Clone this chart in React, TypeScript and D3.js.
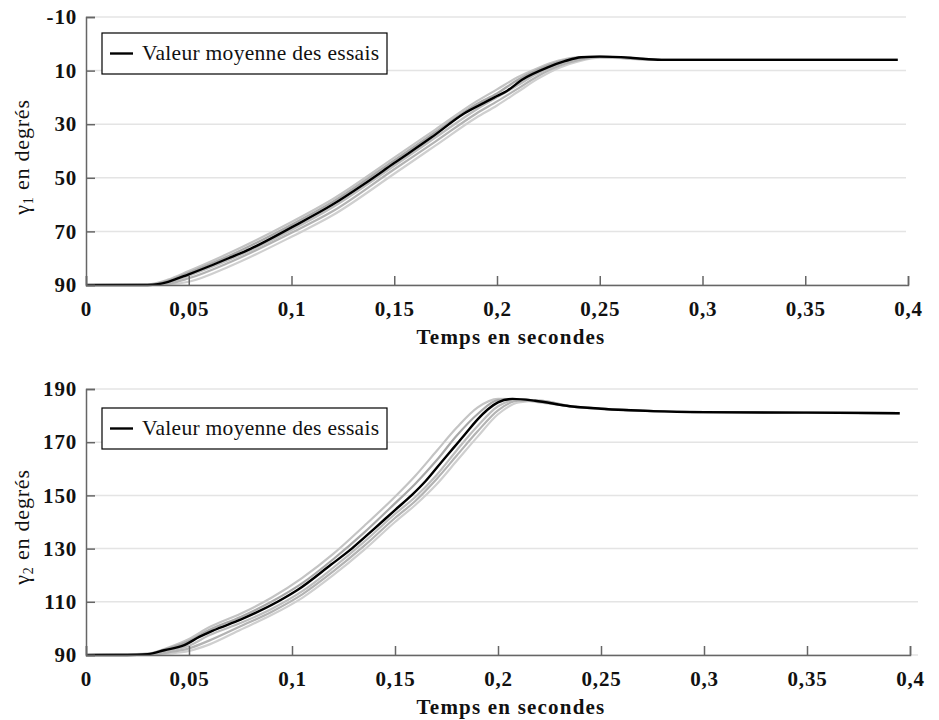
import React, { useEffect, useRef } from "react";
import * as d3 from "d3";

// ---- data ----
const xTicks = [0, 0.05, 0.1, 0.15, 0.2, 0.25, 0.3, 0.35, 0.4];
const gamma1Ticks = [-10, 10, 30, 50, 70, 90];
const gamma2Ticks = [90, 110, 130, 150, 170, 190];

// gamma1 : mean of trials
const meanT1 = [0, 0.03, 0.035, 0.04, 0.05, 0.06, 0.07, 0.08, 0.1, 0.12, 0.135, 0.15, 0.168, 0.184, 0.195, 0.2, 0.205, 0.212, 0.225, 0.233, 0.241, 0.25, 0.265, 0.28, 0.3, 0.35, 0.395];
const meanG1 = [90, 90, 89.7, 88.8, 86, 83, 79.8, 76.5, 68.5, 60, 52.5, 44.5, 35, 26, 21.5, 19.5, 17.5, 13.5, 8.7, 6.5, 5, 4.8, 5.2, 6, 6, 6, 6];

// gamma1 : individual trials
const trialT1 = [0, 0.03, 0.04, 0.05, 0.07, 0.1, 0.12, 0.15, 0.17, 0.19, 0.2, 0.21, 0.22, 0.23, 0.24, 0.25, 0.28, 0.395];
const trial1G1 = [90, 89.8, 88, 84.8, 78, 66.5, 58, 42.5, 32, 21.5, 17, 12.5, 9, 6.3, 5, 4.8, 6, 6];
const trial2G1 = [90, 89.9, 88.4, 85.4, 79, 67.5, 59, 43.5, 33, 22.5, 18.5, 13.5, 9.6, 6.7, 5.1, 4.8, 6, 6];
const trial3G1 = [90, 90, 89, 86.5, 80.5, 69.5, 61, 45.5, 35, 24.5, 20, 15.5, 11, 7.7, 5.5, 4.9, 6, 6];
const trial4G1 = [90, 90, 89.8, 88.8, 83, 72, 64, 48.5, 38, 27.5, 23, 18, 13, 9, 6.5, 5.2, 6, 6];
const trial5G1 = [90, 90, 89.5, 87.5, 81.5, 70.5, 62.5, 46.8, 36.5, 26, 21.5, 16.8, 12, 8.3, 6, 5, 6, 6];

// gamma2 : mean of trials
const meanT2 = [0, 0.02, 0.03, 0.038, 0.048, 0.055, 0.062, 0.075, 0.093, 0.103, 0.119, 0.129, 0.14, 0.15, 0.158, 0.165, 0.172, 0.178, 0.184, 0.19, 0.195, 0.2, 0.207, 0.218, 0.235, 0.25, 0.275, 0.3, 0.35, 0.395];
const meanG2 = [90, 90, 90.3, 91.8, 93.8, 96.8, 99.3, 103.3, 110, 114.6, 124, 130, 137.5, 144.5, 150, 155.5, 162, 167.5, 173, 178.5, 182.3, 185, 186.3, 185.6, 183.5, 182.6, 181.7, 181.3, 181.1, 180.9];

// gamma2 : individual trials
const trialT2 = [0, 0.03, 0.04, 0.05, 0.06, 0.075, 0.09, 0.105, 0.12, 0.135, 0.15, 0.16, 0.17, 0.18, 0.19, 0.2, 0.21, 0.22, 0.235, 0.25, 0.3, 0.395];
const trial1G2 = [90, 90.5, 92.8, 96, 100.5, 105.5, 111.5, 119, 128, 138.5, 149.5, 157.5, 166.5, 175.5, 183, 186.3, 186, 185, 183.5, 182.6, 181.3, 180.9];
const trial2G2 = [90, 90.4, 92.5, 95.3, 99.5, 104.3, 110, 117, 126, 136, 147, 154.5, 163, 172.5, 180.5, 185.8, 186.2, 185.3, 183.5, 182.6, 181.3, 180.9];
const trial3G2 = [90, 90.2, 91.5, 93.5, 97.5, 102, 107.3, 114, 122.8, 132.5, 143, 149.5, 157.5, 167, 176, 183.5, 186, 185.5, 183.5, 182.6, 181.3, 180.9];
const trial4G2 = [90, 90, 90.5, 91.5, 94, 99.5, 105, 111.5, 120, 129.5, 140, 146.5, 154, 163, 172, 180.5, 185, 185.6, 183.6, 182.6, 181.3, 180.9];
const trial5G2 = [90, 90.1, 91, 92.5, 95.5, 100.8, 106.2, 112.8, 121.4, 131, 141.5, 148, 156, 165, 174, 182, 185.6, 185.6, 183.5, 182.6, 181.3, 180.9];

const trialColors = ["#c4c4c4", "#a8a8a8", "#bdbdbd", "#cfcfcf", "#b3b3b3"];

const legendLabel = "Valeur moyenne des essais";
const xTitle = "Temps en secondes";

const serif = "'Liberation Serif', 'Times New Roman', serif";

const zip = (t: number[], v: number[]) => t.map((d, i) => [d, v[i]] as [number, number]);

const App = () => {
  const ref = useRef<SVGSVGElement>(null);

  useEffect(() => {
    const svg = d3.select(ref.current);
    svg.selectAll("*").remove();

    const panels = [
      {
        top: 17,
        bottom: 285,
        right: 908,
        gridRight: 906,
        domain: [-10, 90],
        ticks: gamma1Ticks,
        sub: "1",
        mean: zip(meanT1, meanG1),
        trials: [trial1G1, trial2G1, trial3G1, trial4G1, trial5G1].map((v) => zip(trialT1, v)),
        legendY: 33,
        labelY: 157,
      },
      {
        top: 389,
        bottom: 655,
        right: 910,
        gridRight: 918,
        domain: [190, 90],
        ticks: gamma2Ticks,
        sub: "2",
        mean: zip(meanT2, meanG2),
        trials: [trial1G2, trial2G2, trial3G2, trial4G2, trial5G2].map((v) => zip(trialT2, v)),
        legendY: 408,
        labelY: 527,
      },
    ];

    const left = 86;

    panels.forEach((p) => {
      const x = d3.scaleLinear().domain([0, 0.4]).range([left, p.right]);
      const y = d3.scaleLinear().domain(p.domain).range([p.top, p.bottom]);
      const g = svg.append("g");

      // gridlines
      g.append("g")
        .selectAll("line")
        .data(p.ticks)
        .join("line")
        .attr("x1", left)
        .attr("x2", p.gridRight)
        .attr("y1", (d) => y(d))
        .attr("y2", (d) => y(d))
        .attr("stroke", "#e4e4e4")
        .attr("stroke-width", 1.5);

      const line = d3
        .line<[number, number]>()
        .x((d) => x(d[0]))
        .y((d) => y(d[1]))
        .curve(d3.curveMonotoneX);

      // trials
      g.append("g")
        .selectAll("path")
        .data(p.trials)
        .join("path")
        .attr("d", (d) => line(d))
        .attr("fill", "none")
        .attr("stroke", (d, i) => trialColors[i])
        .attr("stroke-width", 2.2);

      // mean
      g.append("path")
        .attr("d", line(p.mean))
        .attr("fill", "none")
        .attr("stroke", "#000")
        .attr("stroke-width", 2.4);

      const styleTicks = (a: any) =>
        a
          .selectAll(".tick text")
          .attr("font-family", serif)
          .attr("font-weight", "bold")
          .attr("font-size", 21)
          .attr("letter-spacing", 0.8)
          .attr("fill", "#111");

      // x axis
      const xAxis = d3
        .axisBottom(x)
        .tickValues(xTicks)
        .tickSize(-9)
        .tickPadding(16)
        .tickFormat((d) => String(d).replace(".", ","));
      g.append("g")
        .attr("transform", `translate(0,${p.bottom})`)
        .call(xAxis)
        .call((a) => a.select(".domain").attr("stroke", "#666").attr("stroke-width", 1.5))
        .call((a) => a.selectAll(".tick line").attr("stroke", "#666").attr("stroke-width", 1.5))
        .call(styleTicks);

      // y axis
      const yAxis = d3
        .axisLeft(y)
        .tickValues(p.ticks)
        .tickSize(-9)
        .tickPadding(9)
        .tickFormat((d) => String(d));
      g.append("g")
        .attr("transform", `translate(${left},0)`)
        .call(yAxis)
        .call((a) => a.select(".domain").attr("stroke", "#666").attr("stroke-width", 1.5))
        .call((a) => a.selectAll(".tick line").attr("stroke", "#666").attr("stroke-width", 1.5))
        .call(styleTicks);

      // x title
      g.append("text")
        .attr("x", 511)
        .attr("y", p.bottom + 59)
        .attr("text-anchor", "middle")
        .attr("font-family", serif)
        .attr("font-weight", "bold")
        .attr("font-size", 21)
        .attr("letter-spacing", 1.2)
        .attr("fill", "#111")
        .text(xTitle);

      // y title
      const yt = g
        .append("text")
        .attr("transform", `translate(29,${p.labelY}) rotate(-90)`)
        .attr("text-anchor", "middle")
        .attr("font-family", serif)
        .attr("font-size", 22)
        .attr("letter-spacing", 0.8)
        .attr("fill", "#111");
      yt.append("tspan").text("γ");
      yt.append("tspan").attr("font-size", 14).attr("dy", 4).text(p.sub);
      yt.append("tspan").attr("dy", -4).text(" en degrés");

      // legend
      const lg = g.append("g").attr("transform", `translate(${left + 16},${p.legendY})`);
      lg.append("rect")
        .attr("width", 285)
        .attr("height", 41)
        .attr("fill", "#fff")
        .attr("stroke", "#000")
        .attr("stroke-width", 1.2);
      lg.append("line")
        .attr("x1", 8)
        .attr("x2", 31)
        .attr("y1", 20.5)
        .attr("y2", 20.5)
        .attr("stroke", "#000")
        .attr("stroke-width", 2.4);
      lg.append("text")
        .attr("x", 40)
        .attr("y", 27)
        .attr("font-family", serif)
        .attr("font-size", 21.5)
        .attr("letter-spacing", 0.3)
        .attr("fill", "#111")
        .text(legendLabel);
    });
  }, []);

  return (
    <svg
      ref={ref}
      width={939}
      height={720}
      style={{ position: "absolute", left: 0, top: 0, background: "#fff" }}
    ></svg>
  );
};

export default App;
